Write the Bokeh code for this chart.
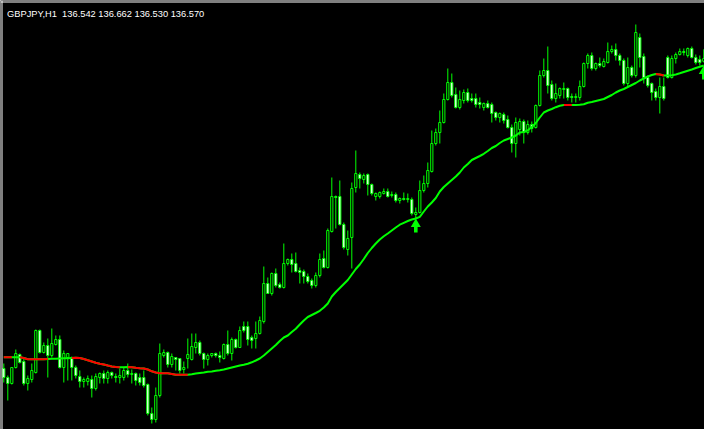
from bokeh.plotting import figure
from bokeh.models import Range1d, Span, Label, ColumnDataSource
from bokeh.embed import file_html
from bokeh.resources import INLINE

symbol = "GBPJPY,H1"

opens = [
    133.47, 133.38, 133.32, 133.48, 133.61, 133.54, 133.32, 133.36, 133.43, 133.85,
    133.63, 133.70, 133.60, 133.71, 133.76, 133.48, 133.58, 133.58, 133.48, 133.39,
    133.34, 133.34, 133.36, 133.27, 133.38, 133.42, 133.37, 133.43, 133.39, 133.38,
    133.38, 133.45, 133.41, 133.42, 133.38, 133.38, 133.31, 133.02, 132.96, 133.20,
    133.60, 133.63, 133.51, 133.58, 133.57, 133.46, 133.57, 133.56, 133.68, 133.73,
    133.62, 133.56, 133.60, 133.62, 133.60, 133.57, 133.71, 133.62, 133.76, 133.68,
    133.89, 133.89, 133.78, 133.77, 133.82, 133.94, 134.32, 134.22, 134.42, 134.31,
    134.28, 134.52, 134.56, 134.52, 134.45, 134.44, 134.39, 134.35, 134.30, 134.40,
    134.57, 134.48, 134.84, 135.19, 135.19, 134.91, 134.66, 134.78, 135.28, 135.41,
    135.36, 135.41, 135.31, 135.19, 135.19, 135.22, 135.24, 135.20, 135.21, 135.15,
    135.17, 135.16, 135.16, 135.01, 135.03, 135.25, 135.32, 135.44, 135.72, 135.83,
    135.93, 136.16, 136.33, 136.21, 136.08, 136.15, 136.23, 136.17, 136.17, 136.13,
    136.08, 136.12, 136.11, 136.03, 135.98, 136.01, 135.96, 135.88, 135.72, 135.86,
    135.94, 135.83, 135.91, 135.88, 136.10, 136.40, 136.45, 136.31, 136.17, 136.20,
    136.26, 136.27, 136.19, 136.18, 136.18, 136.29, 136.52, 136.60, 136.47, 136.52,
    136.49, 136.53, 136.64, 136.66, 136.60, 136.55, 136.32, 136.48, 136.40, 136.78,
    136.59, 136.38, 136.32, 136.24, 136.18, 136.29, 136.58, 136.38, 136.57, 136.61,
    136.64, 136.60, 136.67, 136.58, 136.56, 136.542,
]
highs = [
    133.52, 133.40, 133.48, 133.66, 133.62, 133.57, 133.40, 133.52, 133.86, 133.86,
    133.73, 133.77, 133.87, 133.80, 133.80, 133.65, 133.62, 133.59, 133.50, 133.45,
    133.38, 133.40, 133.40, 133.42, 133.43, 133.45, 133.45, 133.44, 133.42, 133.47,
    133.48, 133.52, 133.46, 133.43, 133.42, 133.45, 133.32, 133.08, 133.28, 133.72,
    133.66, 133.64, 133.62, 133.58, 133.57, 133.54, 133.77, 133.82, 133.82, 133.75,
    133.63, 133.62, 133.62, 133.63, 133.64, 133.72, 133.85, 133.78, 133.77, 133.89,
    133.94, 133.94, 133.80, 133.94, 133.99, 134.49, 134.38, 134.43, 134.47, 134.33,
    134.72, 134.57, 134.62, 134.63, 134.48, 134.46, 134.42, 134.37, 134.43, 134.62,
    134.65, 134.87, 135.38, 135.20, 135.35, 134.93, 134.85, 135.33, 135.65, 135.43,
    135.42, 135.42, 135.32, 135.23, 135.24, 135.27, 135.27, 135.24, 135.23, 135.18,
    135.23, 135.22, 135.18, 135.08, 135.35, 135.40, 135.53, 135.85, 135.87, 136.05,
    136.22, 136.47, 136.42, 136.28, 136.25, 136.26, 136.27, 136.22, 136.22, 136.18,
    136.13, 136.15, 136.13, 136.04, 136.03, 136.03, 136.00, 135.91, 135.98, 135.97,
    135.96, 135.95, 135.94, 136.11, 136.45, 136.57, 136.69, 136.35, 136.32, 136.28,
    136.33, 136.28, 136.22, 136.22, 136.35, 136.53, 136.62, 136.63, 136.53, 136.58,
    136.57, 136.73, 136.70, 136.72, 136.62, 136.57, 136.58, 136.50, 136.91, 136.82,
    136.62, 136.40, 136.33, 136.27, 136.38, 136.38, 136.60, 136.60, 136.63, 136.67,
    136.67, 136.68, 136.69, 136.61, 136.60, 136.662,
]
lows = [
    133.33, 133.15, 133.31, 133.47, 133.52, 133.30, 133.25, 133.33, 133.42, 133.62,
    133.62, 133.38, 133.58, 133.70, 133.47, 133.33, 133.35, 133.35, 133.37, 133.28,
    133.28, 133.30, 133.18, 133.25, 133.32, 133.32, 133.32, 133.37, 133.33, 133.32,
    133.35, 133.38, 133.32, 133.30, 133.30, 133.28, 133.00, 132.92, 132.93, 133.18,
    133.58, 133.48, 133.48, 133.45, 133.42, 133.42, 133.47, 133.55, 133.62, 133.60,
    133.47, 133.50, 133.58, 133.58, 133.53, 133.56, 133.60, 133.55, 133.67, 133.68,
    133.83, 133.70, 133.67, 133.67, 133.81, 133.92, 134.22, 134.20, 134.28, 134.27,
    134.27, 134.50, 134.43, 134.43, 134.32, 134.32, 134.32, 134.27, 134.28, 134.38,
    134.47, 134.47, 134.83, 134.87, 134.90, 134.66, 134.60, 134.47, 135.23, 135.27,
    135.32, 135.20, 135.20, 135.15, 135.17, 135.21, 135.18, 135.18, 135.13, 135.12,
    135.15, 135.13, 135.00, 134.97, 135.02, 135.23, 135.28, 135.43, 135.70, 135.72,
    135.92, 136.15, 136.18, 136.07, 136.06, 136.12, 136.13, 136.13, 136.08, 136.07,
    136.05, 136.07, 135.93, 135.95, 135.93, 135.92, 135.87, 135.63, 135.58, 135.80,
    135.72, 135.81, 135.83, 135.87, 136.09, 136.38, 136.22, 136.15, 136.13, 136.17,
    136.17, 136.15, 136.13, 136.13, 136.15, 136.28, 136.47, 136.45, 136.45, 136.48,
    136.48, 136.52, 136.62, 136.55, 136.50, 136.30, 136.28, 136.38, 136.38, 136.48,
    136.32, 136.28, 136.15, 136.15, 136.02, 136.15, 136.37, 136.37, 136.52, 136.60,
    136.60, 136.58, 136.57, 136.51, 136.50, 136.530,
]
closes = [
    133.38, 133.32, 133.48, 133.62, 133.53, 133.32, 133.37, 133.45, 133.85, 133.63,
    133.70, 133.60, 133.72, 133.76, 133.48, 133.62, 133.62, 133.48, 133.40, 133.34,
    133.36, 133.37, 133.27, 133.39, 133.42, 133.37, 133.43, 133.40, 133.38, 133.40,
    133.45, 133.41, 133.42, 133.35, 133.33, 133.30, 133.02, 132.96, 133.20, 133.62,
    133.63, 133.51, 133.59, 133.56, 133.45, 133.48, 133.61, 133.69, 133.73, 133.62,
    133.56, 133.60, 133.62, 133.60, 133.58, 133.71, 133.62, 133.76, 133.68, 133.85,
    133.85, 133.76, 133.75, 133.82, 133.95, 134.32, 134.22, 134.42, 134.30, 134.28,
    134.52, 134.56, 134.51, 134.44, 134.43, 134.39, 134.34, 134.30, 134.40, 134.56,
    134.48, 134.85, 135.19, 135.18, 134.91, 134.68, 134.77, 135.27, 135.42, 135.37,
    135.40, 135.31, 135.22, 135.22, 135.23, 135.24, 135.19, 135.21, 135.15, 135.17,
    135.16, 135.17, 135.02, 135.03, 135.25, 135.32, 135.45, 135.72, 135.83, 135.93,
    136.16, 136.33, 136.20, 136.08, 136.16, 136.23, 136.15, 136.15, 136.11, 136.11,
    136.12, 136.08, 136.02, 135.98, 136.02, 135.95, 135.88, 135.72, 135.93, 135.94,
    135.83, 135.91, 135.87, 136.10, 136.40, 136.45, 136.30, 136.17, 136.22, 136.27,
    136.27, 136.18, 136.18, 136.19, 136.29, 136.52, 136.60, 136.47, 136.52, 136.50,
    136.54, 136.64, 136.66, 136.60, 136.55, 136.32, 136.48, 136.40, 136.83, 136.58,
    136.38, 136.30, 136.23, 136.18, 136.29, 136.17, 136.38, 136.57, 136.61, 136.64,
    136.63, 136.67, 136.58, 136.53, 136.53, 136.570,
]
ma = [
    133.583, 133.583, 133.583, 133.583, 133.583, 133.575, 133.563, 133.563, 133.563, 133.563,
    133.563, 133.565, 133.567, 133.568, 133.570, 133.572, 133.573, 133.575, 133.577, 133.575,
    133.565, 133.553, 133.540, 133.527, 133.518, 133.510, 133.500, 133.491, 133.485, 133.483,
    133.483, 133.485, 133.482, 133.477, 133.473, 133.470, 133.460, 133.442, 133.430, 133.423,
    133.423, 133.422, 133.415, 133.407, 133.407, 133.407, 133.407, 133.413, 133.420, 133.425,
    133.430, 133.437, 133.440, 133.447, 133.453, 133.460, 133.470, 133.480, 133.490, 133.500,
    133.507, 133.517, 133.532, 133.550, 133.570, 133.600, 133.635, 133.670, 133.705, 133.745,
    133.780, 133.800, 133.835, 133.867, 133.910, 133.950, 133.985, 134.005, 134.025, 134.047,
    134.080, 134.120, 134.190, 134.235, 134.275, 134.315, 134.355, 134.410, 134.465, 134.510,
    134.565, 134.625, 134.675, 134.720, 134.760, 134.792, 134.820, 134.850, 134.880, 134.908,
    134.927, 134.945, 134.960, 134.970, 134.987, 135.040, 135.090, 135.130, 135.175, 135.240,
    135.285, 135.320, 135.355, 135.390, 135.430, 135.480, 135.515, 135.555, 135.575, 135.595,
    135.617, 135.645, 135.675, 135.695, 135.725, 135.750, 135.765, 135.780, 135.800, 135.830,
    135.835, 135.852, 135.885, 135.925, 135.980, 136.030, 136.050, 136.065, 136.083, 136.098,
    136.105, 136.105, 136.105, 136.105, 136.107, 136.112, 136.127, 136.135, 136.145, 136.155,
    136.165, 136.185, 136.205, 136.230, 136.250, 136.265, 136.285, 136.305, 136.325, 136.350,
    136.370, 136.390, 136.405, 136.415, 136.410, 136.400, 136.400, 136.402, 136.410, 136.422,
    136.435, 136.448, 136.460, 136.475, 136.488, 136.500,
]
# bar-index runs where the moving average is drawn in its "falling" colour
ma_down_runs = [(0, 2), (4, 11), (17, 29), (31, 46), (140, 142), (163, 165)]
# buy arrows: bar index and price of the arrow tip
arrow_bars = [103, 175]
arrow_prices = [134.97, 136.50]

W, H = 704, 429
LIME = "#00FF00"

bars = list(range(len(opens)))
bull = [c >= o for o, c in zip(opens, closes)]
src = ColumnDataSource(dict(
    x=bars,
    top=[max(o, c) for o, c in zip(opens, closes)],
    bottom=[min(o, c) for o, c in zip(opens, closes)],
    high=highs, low=lows,
    fill=["black" if b else "white" for b in bull],
))

p = figure(width=W, height=H, x_range=Range1d(-0.825, 175.175),
           y_range=Range1d(132.86, 137.15), output_backend="svg",
           toolbar_location=None, x_axis_location=None, y_axis_location=None,
           min_border=0, background_fill_color="black", border_fill_color="black")
p.grid.visible = False
p.outline_line_color = None

p.segment(x0="x", y0="low", x1="x", y1="high", source=src, line_color=LIME, line_width=1)
p.vbar(x="x", top="top", bottom="bottom", width=0.55, source=src,
       fill_color="fill", line_color=LIME, line_width=1)

# moving average
p.line(bars, ma, line_color=LIME, line_width=2)
for a, b in ma_down_runs:
    p.line(bars[a:b + 1], ma[a:b + 1], line_color="#FF0000", line_width=2)

# arrows
p.vbar(x=arrow_bars, top=[v - 0.05 for v in arrow_prices],
       bottom=[v - 0.14 for v in arrow_prices], width=0.9,
       fill_color=LIME, line_color=None)
p.scatter(x=arrow_bars, y=[v - 0.057 for v in arrow_prices], marker="triangle",
          size=10, fill_color=LIME, line_color=None)

# window frame (top and left)
p.add_layout(Span(location=137.135, dimension="width", line_color="white", line_width=1))
p.add_layout(Span(location=-0.45, dimension="height", line_color="white", line_width=1))

title = (f"{symbol}\u00a0\u00a0{opens[-1]:.3f} {highs[-1]:.3f} "
         f"{lows[-1]:.3f} {closes[-1]:.3f}")
p.add_layout(Label(x=6.5, y=H - 13.5, x_units="screen", y_units="screen", text=title,
                   text_color="white", text_font="Liberation Sans",
                   text_font_size="9.3px", text_baseline="alphabetic"))

open("out.html", "w").write(file_html(p, INLINE))
